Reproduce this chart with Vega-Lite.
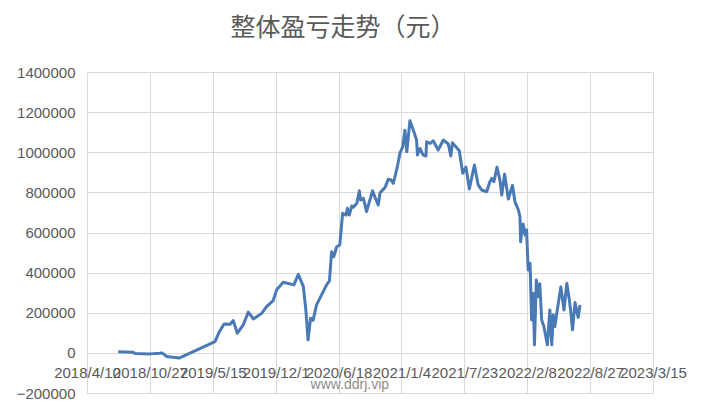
{
  "$schema": "https://vega.github.io/schema/vega-lite/v6.json",
  "autosize": "none",
  "width": 566,
  "height": 321,
  "padding": {"left": 87, "top": 72, "right": 49, "bottom": 15},
  "background": "#ffffff",
  "title": {
    "text": "整体盈亏走势（元）",
    "font": "Noto Sans CJK SC",
    "fontSize": 25,
    "fontWeight": "normal",
    "color": "#595959",
    "anchor": "middle",
    "dx": -27,
    "offset": 24
  },
  "config": {
    "view": {"stroke": null},
    "axis": {
      "labelFont": "Liberation Sans",
      "labelFontSize": 15,
      "labelColor": "#595959",
      "gridColor": "#d9d9d9",
      "gridWidth": 1,
      "domain": false,
      "ticks": false,
      "title": null
    }
  },
  "datasets": {
    "pnl": [
      {"date": "2018-07-18", "value": 5000},
      {"date": "2018-09-03", "value": 2500},
      {"date": "2018-09-10", "value": -2500},
      {"date": "2018-10-27", "value": -5000},
      {"date": "2018-11-28", "value": -1500},
      {"date": "2018-12-04", "value": 0},
      {"date": "2018-12-20", "value": -18000},
      {"date": "2019-01-28", "value": -26000},
      {"date": "2019-05-22", "value": 56000},
      {"date": "2019-06-05", "value": 106000},
      {"date": "2019-06-20", "value": 144000},
      {"date": "2019-07-09", "value": 143000},
      {"date": "2019-07-19", "value": 161000},
      {"date": "2019-08-01", "value": 98000},
      {"date": "2019-08-20", "value": 140000},
      {"date": "2019-09-05", "value": 203000},
      {"date": "2019-09-21", "value": 169000},
      {"date": "2019-10-18", "value": 198000},
      {"date": "2019-11-02", "value": 231000},
      {"date": "2019-11-23", "value": 260000},
      {"date": "2019-12-04", "value": 314000},
      {"date": "2019-12-25", "value": 352000},
      {"date": "2020-01-28", "value": 339000},
      {"date": "2020-02-11", "value": 392000},
      {"date": "2020-02-27", "value": 330000},
      {"date": "2020-03-06", "value": 214000},
      {"date": "2020-03-13", "value": 65000},
      {"date": "2020-03-21", "value": 173000},
      {"date": "2020-03-29", "value": 162000},
      {"date": "2020-04-09", "value": 239000},
      {"date": "2020-05-11", "value": 339000},
      {"date": "2020-05-20", "value": 359000},
      {"date": "2020-05-27", "value": 504000},
      {"date": "2020-06-03", "value": 480000},
      {"date": "2020-06-12", "value": 529000},
      {"date": "2020-06-22", "value": 538000},
      {"date": "2020-07-01", "value": 696000},
      {"date": "2020-07-12", "value": 687000},
      {"date": "2020-07-16", "value": 721000},
      {"date": "2020-07-22", "value": 687000},
      {"date": "2020-07-30", "value": 732000},
      {"date": "2020-08-04", "value": 726000},
      {"date": "2020-08-15", "value": 746000},
      {"date": "2020-08-23", "value": 808000},
      {"date": "2020-08-27", "value": 762000},
      {"date": "2020-09-05", "value": 770000},
      {"date": "2020-09-15", "value": 704000},
      {"date": "2020-10-04", "value": 808000},
      {"date": "2020-10-12", "value": 775000},
      {"date": "2020-10-22", "value": 737000},
      {"date": "2020-10-28", "value": 798000},
      {"date": "2020-11-13", "value": 825000},
      {"date": "2020-11-23", "value": 865000},
      {"date": "2020-12-02", "value": 862000},
      {"date": "2020-12-09", "value": 845000},
      {"date": "2020-12-14", "value": 875000},
      {"date": "2020-12-22", "value": 928000},
      {"date": "2020-12-30", "value": 995000},
      {"date": "2021-01-08", "value": 1027000},
      {"date": "2021-01-15", "value": 1110000},
      {"date": "2021-01-21", "value": 1002000},
      {"date": "2021-01-31", "value": 1157000},
      {"date": "2021-02-11", "value": 1110000},
      {"date": "2021-02-21", "value": 1061000},
      {"date": "2021-02-24", "value": 986000},
      {"date": "2021-03-04", "value": 1019000},
      {"date": "2021-03-14", "value": 986000},
      {"date": "2021-03-23", "value": 981000},
      {"date": "2021-03-25", "value": 1052000},
      {"date": "2021-04-05", "value": 1044000},
      {"date": "2021-04-15", "value": 1057000},
      {"date": "2021-05-01", "value": 1011000},
      {"date": "2021-05-17", "value": 1061000},
      {"date": "2021-06-02", "value": 1041000},
      {"date": "2021-06-10", "value": 981000},
      {"date": "2021-06-15", "value": 1047000},
      {"date": "2021-06-26", "value": 1027000},
      {"date": "2021-07-07", "value": 1007000},
      {"date": "2021-07-11", "value": 965000},
      {"date": "2021-07-18", "value": 895000},
      {"date": "2021-07-28", "value": 926000},
      {"date": "2021-08-08", "value": 817000},
      {"date": "2021-08-24", "value": 936000},
      {"date": "2021-09-05", "value": 837000},
      {"date": "2021-09-16", "value": 812000},
      {"date": "2021-10-02", "value": 803000},
      {"date": "2021-10-12", "value": 852000},
      {"date": "2021-10-18", "value": 870000},
      {"date": "2021-10-25", "value": 853000},
      {"date": "2021-11-04", "value": 926000},
      {"date": "2021-11-13", "value": 862000},
      {"date": "2021-11-19", "value": 787000},
      {"date": "2021-11-28", "value": 891000},
      {"date": "2021-12-10", "value": 767000},
      {"date": "2021-12-23", "value": 834000},
      {"date": "2021-12-31", "value": 753000},
      {"date": "2022-01-11", "value": 712000},
      {"date": "2022-01-16", "value": 677000},
      {"date": "2022-01-18", "value": 554000},
      {"date": "2022-01-21", "value": 596000},
      {"date": "2022-01-26", "value": 642000},
      {"date": "2022-02-01", "value": 588000},
      {"date": "2022-02-06", "value": 613000},
      {"date": "2022-02-11", "value": 413000},
      {"date": "2022-02-17", "value": 447000},
      {"date": "2022-02-22", "value": 164000},
      {"date": "2022-02-27", "value": 297000},
      {"date": "2022-03-03", "value": 40000},
      {"date": "2022-03-09", "value": 363000},
      {"date": "2022-03-15", "value": 280000},
      {"date": "2022-03-20", "value": 344000},
      {"date": "2022-03-26", "value": 164000},
      {"date": "2022-04-02", "value": 131000},
      {"date": "2022-04-13", "value": 40000},
      {"date": "2022-04-21", "value": 214000},
      {"date": "2022-04-27", "value": 40000},
      {"date": "2022-05-02", "value": 189000},
      {"date": "2022-05-07", "value": 131000},
      {"date": "2022-05-13", "value": 198000},
      {"date": "2022-05-26", "value": 329000},
      {"date": "2022-06-05", "value": 214000},
      {"date": "2022-06-14", "value": 347000},
      {"date": "2022-06-22", "value": 264000},
      {"date": "2022-06-27", "value": 198000},
      {"date": "2022-07-02", "value": 115000},
      {"date": "2022-07-10", "value": 251000},
      {"date": "2022-07-20", "value": 177000},
      {"date": "2022-07-26", "value": 239000}
    ],
    "mark": [
      {"date": "2020-07-24", "value": -160000, "label": "www.ddrj.vip"}
    ]
  },
  "layer": [
    {
      "data": {"name": "pnl"},
      "mark": {"type": "line", "color": "#4a7ab5", "strokeWidth": 3, "strokeJoin": "round"},
      "encoding": {
        "x": {
          "field": "date",
          "type": "temporal",
          "scale": {
            "type": "utc",
            "domain": [
              {"year": 2018, "month": 4, "date": 10, "utc": true},
              {"year": 2023, "month": 3, "date": 15, "utc": true}
            ],
            "nice": false
          },
          "axis": {
            "values": [
              {"year": 2018, "month": 4, "date": 10, "utc": true},
              {"year": 2018, "month": 10, "date": 27, "utc": true},
              {"year": 2019, "month": 5, "date": 15, "utc": true},
              {"year": 2019, "month": 12, "date": 1, "utc": true},
              {"year": 2020, "month": 6, "date": 18, "utc": true},
              {"year": 2021, "month": 1, "date": 4, "utc": true},
              {"year": 2021, "month": 7, "date": 23, "utc": true},
              {"year": 2022, "month": 2, "date": 8, "utc": true},
              {"year": 2022, "month": 8, "date": 27, "utc": true},
              {"year": 2023, "month": 3, "date": 15, "utc": true}
            ],
            "labelExpr": "utcFormat(datum.value, '%Y/%-m/%-d')",
            "labelOverlap": false,
            "labelFlush": false,
            "labelPadding": -28,
            "labelAngle": 0
          }
        },
        "y": {
          "field": "value",
          "type": "quantitative",
          "scale": {"domain": [-200000, 1400000], "nice": false, "zero": false},
          "axis": {
            "values": [-200000, 0, 200000, 400000, 600000, 800000, 1000000, 1200000, 1400000],
            "format": "d",
            "labelPadding": 12
          }
        }
      }
    },
    {
      "data": {"name": "mark"},
      "mark": {"type": "text", "font": "Liberation Sans", "fontSize": 14, "color": "#8c8c8c"},
      "encoding": {
        "x": {"field": "date", "type": "temporal"},
        "y": {"field": "value", "type": "quantitative"},
        "text": {"field": "label"}
      }
    }
  ]
}
